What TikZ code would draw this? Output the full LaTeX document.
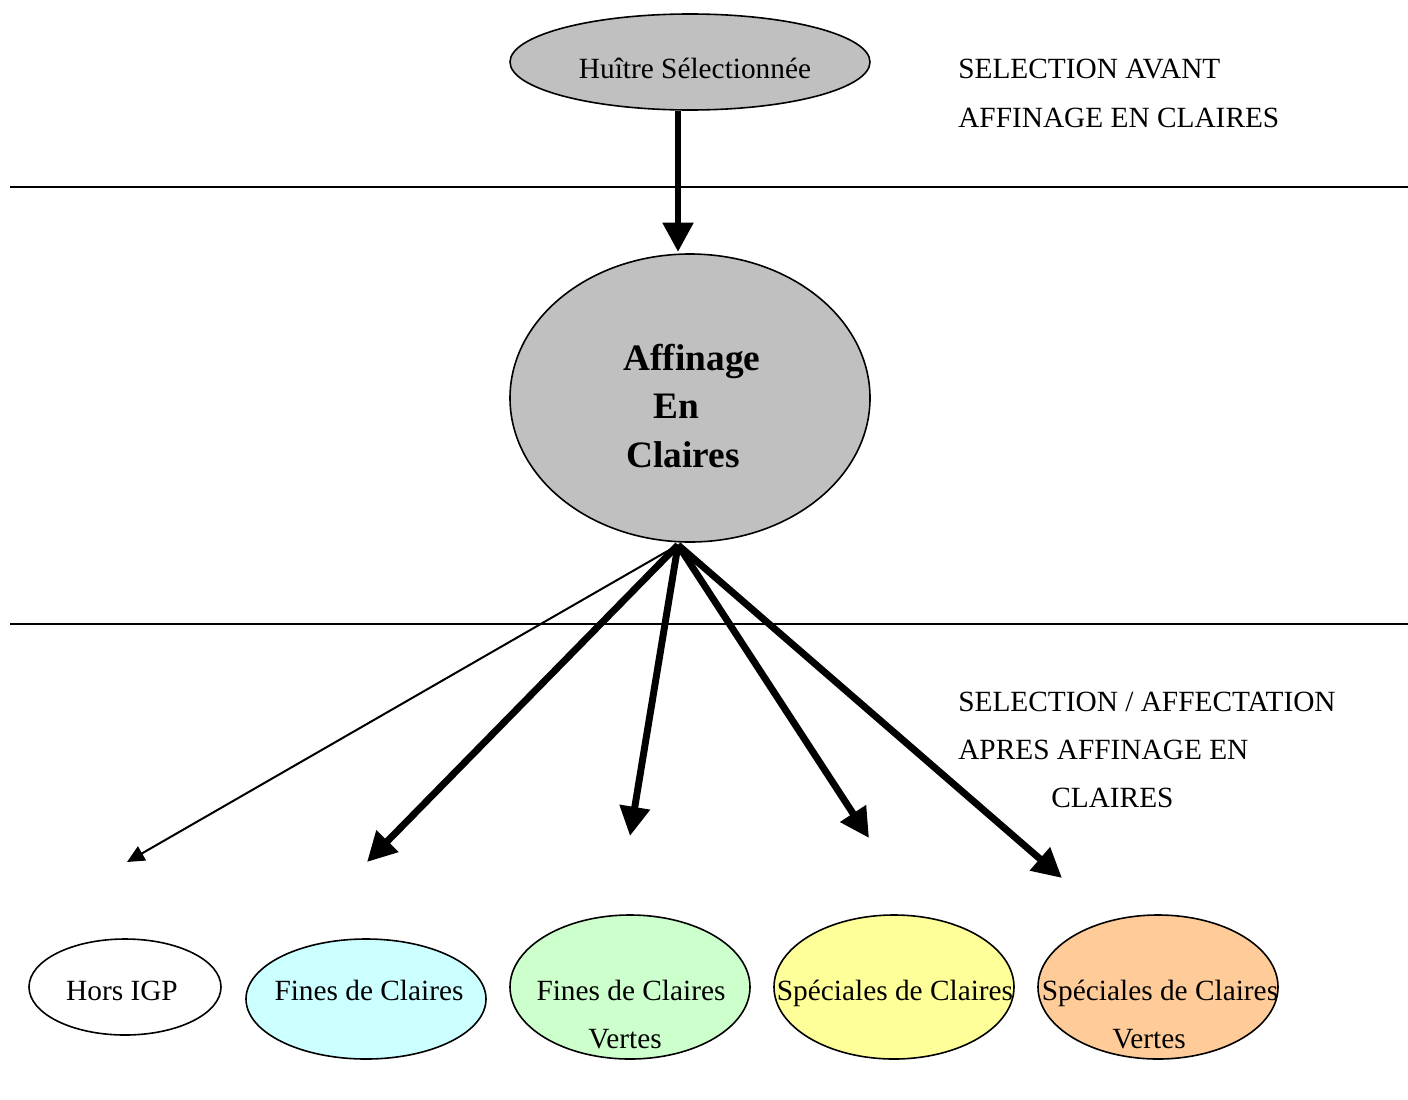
\documentclass[tikz,border=0pt]{standalone}
\usepackage{fontspec}
\setmainfont{Liberation Serif}
\usetikzlibrary{arrows.meta,shapes.geometric}
\definecolor{shellGray}{HTML}{C0C0C0}
\definecolor{finesBlue}{HTML}{CCFFFF}
\definecolor{finesGreen}{HTML}{CCFFCC}
\definecolor{specYellow}{HTML}{FFFF99}
\definecolor{specOrange}{HTML}{FFCC99}

\begin{document}
\begin{tikzpicture}
[x=0.75pt,y=-0.75pt,
  shellDecorate/.style={shape=ellipse,draw,line width=1.2pt,inner sep=0pt},
  textDecorate/.style={font=\fontsize{22}{26}\selectfont,inner sep=0pt,anchor=base},
  boldDecorate/.style={font=\fontsize{28}{36}\selectfont\bfseries,inner sep=0pt,anchor=base},
  thickArrow/.style={line width=5.2pt,-{Triangle[length=22pt,width=22pt]}},
  thinArrow/.style={line width=1.5pt,-{Triangle[length=13pt,width=12pt]}},
  sepLine/.style={line width=1.5pt}]
\useasboundingbox (0,0) rectangle (1408,1099);
%% separating lines
\draw[sepLine] (10,187) -- (1408,187);
\draw[sepLine] (10,624) -- (1408,624);
%% top and middle ellipses
\node (sel) at (690,62) [shellDecorate,fill=shellGray,
  minimum width=270pt,minimum height=72pt] {};
\node (selText) at (695,79) [textDecorate] {Huître Sélectionnée};
\node (aff) at (690,398) [shellDecorate,fill=shellGray,
  minimum width=270pt,minimum height=216pt] {};
\foreach \nodename/\x/\y/\txt in {
  affA/692/370/Affinage, affB/676/418/En, affC/683/467/Claires}
{
  \node (\nodename) at (\x,\y) [boldDecorate] {\txt};
}
%% bottom ellipses
\foreach \nodename/\x/\y/\w/\h/\shade in {
  hors/125/987/144/72/white, fines/366/999/180/90/finesBlue,
  finesV/630/987/180/108/finesGreen, spec/894/987/180/108/specYellow,
  specV/1158/987/180/108/specOrange}
{
  \node (\nodename) at (\x,\y) [shellDecorate,fill=\shade,
    minimum width=\w pt,minimum height=\h pt] {};
}
%% texts of the bottom ellipses
\foreach \nodename/\x/\y/\txt in {
  horsText/122/1000/Hors IGP, finesText/369/1000/Fines de Claires,
  finesVText/631/1000/Fines de Claires, finesVText2/625/1048/Vertes,
  specText/895/1000/Spéciales de Claires,
  specVText/1160/1000/Spéciales de Claires, specVText2/1149/1048/Vertes}
{
  \node (\nodename) at (\x,\y) [textDecorate] {\txt};
}
%% side notes
\foreach \nodename/\x/\y/\txt in {
  noteA/958/79/SELECTION AVANT, noteB/958/127/AFFINAGE EN CLAIRES,
  noteC/958/711/{SELECTION / AFFECTATION}, noteD/958/759/APRES AFFINAGE EN,
  noteE/1051/807/CLAIRES}
{
  \node (\nodename) at (\x,\y) [textDecorate,anchor=base west] {\txt};
}
%% arrows
\coordinate (drop) at (678,252);
\coordinate (hub) at (678,545);
\draw[thickArrow] (sel.south -| hub) -- (drop);
\foreach \tipname/\x/\y in {
  tipA/127/862, tipB/367/862, tipC/630/836, tipD/869/838, tipE/1062/878}
{
  \coordinate (\tipname) at (\x,\y);
}
\draw[thinArrow] (hub) -- (tipA);
\path
\foreach \endnode in {tipB, tipC, tipD, tipE}
{
  (hub) edge[thickArrow] (\endnode)
};
\end{tikzpicture}
\end{document}
